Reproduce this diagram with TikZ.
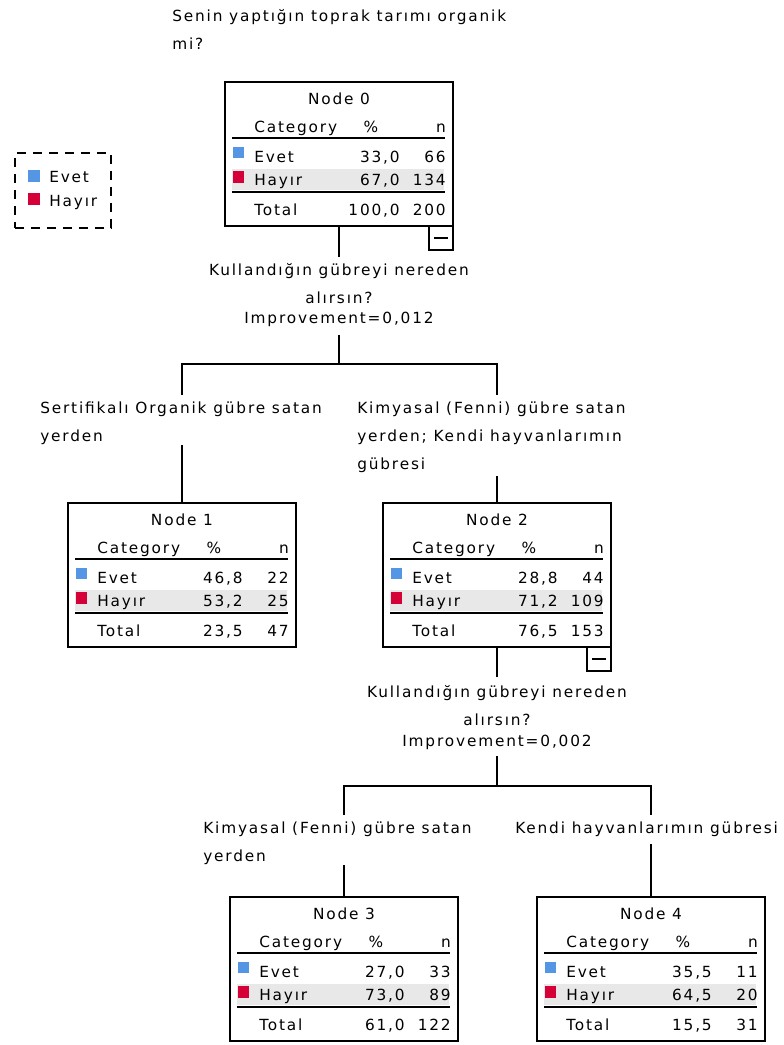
\documentclass[tikz,border=0pt]{standalone}
\usepackage{fontspec}
\setmainfont{DejaVu Sans}[LetterSpace=12]
\usetikzlibrary{calc}
\definecolor{evetblue}{RGB}{85,150,228}
\definecolor{hayirred}{RGB}{213,0,55}
\definecolor{bandgray}{RGB}{232,232,232}
\tikzset{
    txt/.style={inner sep=0pt, text height=8.4pt, text depth=0pt, font=\fontsize{11.5}{21}\selectfont},
    lbl/.style={inner sep=0pt, align=left, font=\fontsize{11.5}{21}\selectfont},
    nodebox/.style={draw, line width=1.3pt, inner sep=0pt, outer sep=0pt, minimum width=171pt, minimum height=108pt},
    rule/.style={line width=1.3pt},
    conn/.style={line width=1.3pt}
}
\newcommand{\treebox}[8]{
    \begin{scope}[shift={#1}]
        \fill[bandgray] (7,87) rectangle (219,108);
        \node[nodebox, anchor=north west] (n#2) at (0,0) {};
        \node[txt] at (114,17) {Node #2};
        \node[txt, anchor=west] at (29,45) {Category};
        \node[txt] at (146,45) {\%};
        \node[txt, anchor=east] at (221,45) {n};
        \draw[rule] (7,56) -- (220,56);
        \fill[evetblue] (8,65) rectangle (19,76);
        \node[txt, anchor=west] at (29,75) {Evet};
        \node[txt, anchor=east] at (175,75) {#3};
        \node[txt, anchor=east] at (221,75) {#4};
        \fill[hayirred] (8,89) rectangle (19,101);
        \node[txt, anchor=west] at (29,98) {Hayır};
        \node[txt, anchor=east] at (175,98) {#5};
        \node[txt, anchor=east] at (221,98) {#6};
        \draw[rule] (7,110) -- (220,110);
        \node[txt, anchor=west] at (29,128) {Total};
        \node[txt, anchor=east] at (175,128) {#7};
        \node[txt, anchor=east] at (221,128) {#8};
    \end{scope}
}
\newcommand{\collapse}[1]{
    \draw[conn] ($(#1.south east)+(-24,0)$) rectangle ($(#1.south east)+(0,24)$);
    \draw[line width=1pt] ($(#1.south east)+(-19,12)$) -- ($(#1.south east)+(-5,12)$);
}
\begin{document}
\begin{tikzpicture}[x=0.75pt, y=-0.75pt]
        \useasboundingbox (0,0) rectangle (784,1045);
        \node[lbl, anchor=north west] (title) at (172,9) {Senin yaptığın toprak tarımı organik\\mi?};
        \node[draw, dash pattern=on 6.75pt off 5.25pt, line width=1.3pt, inner sep=0pt, minimum width=72pt, minimum height=56.25pt, anchor=north west] (legend) at (14,152) {};
        \fill[evetblue] (28,170) rectangle (40,182);
        \node[txt, anchor=west] (legevet) at (49,177) {Evet};
        \fill[hayirred] (28,193) rectangle (40,205);
        \node[txt, anchor=west] (leghayir) at (49,201) {Hayır};
        \treebox{(225,82)}{0}{33,0}{66}{67,0}{134}{100,0}{200}
        \collapse{n0}
        \node[lbl, align=center, anchor=north] (q0) at (339,263) {Kullandığın gübreyi nereden\\alırsın?\\[-6pt]Improvement=0,012};
        \coordinate (s0) at (339,364);
        \node[lbl, anchor=north west] (l1) at (40,402) {Sertifikalı Organik gübre satan\\yerden};
        \node[lbl, anchor=north west] (r1) at (357,402) {Kimyasal (Fenni) gübre satan\\yerden; Kendi hayvanlarımın\\gübresi};
        \treebox{(68,503)}{1}{46,8}{22}{53,2}{25}{23,5}{47}
        \treebox{(383,503)}{2}{28,8}{44}{71,2}{109}{76,5}{153}
        \collapse{n2}
        \node[lbl, align=center, anchor=north] (q2) at (497,685) {Kullandığın gübreyi nereden\\alırsın?\\[-5pt]Improvement=0,002};
        \coordinate (s2) at (497,786);
        \node[lbl, anchor=north west] (l2) at (203,822) {Kimyasal (Fenni) gübre satan\\yerden};
        \node[lbl, anchor=north west] (r2) at (515,822) {Kendi hayvanlarımın gübresi};
        \treebox{(230,897)}{3}{27,0}{33}{73,0}{89}{61,0}{122}
        \treebox{(537,897)}{4}{35,5}{11}{64,5}{20}{15,5}{31}
        \draw[conn, shorten >=4.5pt] (n0.south) -- (n0.south |- q0.north);
        \draw[conn, shorten <=6.5pt] (n0.south |- q0.south) -- (s0);
        \draw[conn, shorten <=5.25pt, shorten >=5.25pt] (n1.north |- l1.north) -- (n1.north |- s0) -- (n2.north |- s0) -- (n2.north |- r1.north);
        \draw[conn] (n1.north |- l1.south) -- (n1.north);
        \draw[conn, shorten <=2pt] (n2.north |- r1.south) -- (n2.north);
        \draw[conn, shorten >=6pt] (n2.south) -- (n2.south |- q2.north);
        \draw[conn, shorten <=4.5pt] (n2.south |- q2.south) -- (s2);
        \draw[conn, shorten <=5.25pt, shorten >=5.25pt] (n3.north |- l2.north) -- (n3.north |- s2) -- (n4.north |- s2) -- (n4.north |- r2.north);
        \draw[conn] (n3.north |- l2.south) -- (n3.north);
        \draw[conn, shorten <=5pt] (n4.north |- r2.south) -- (n4.north);
\end{tikzpicture}
\end{document}
